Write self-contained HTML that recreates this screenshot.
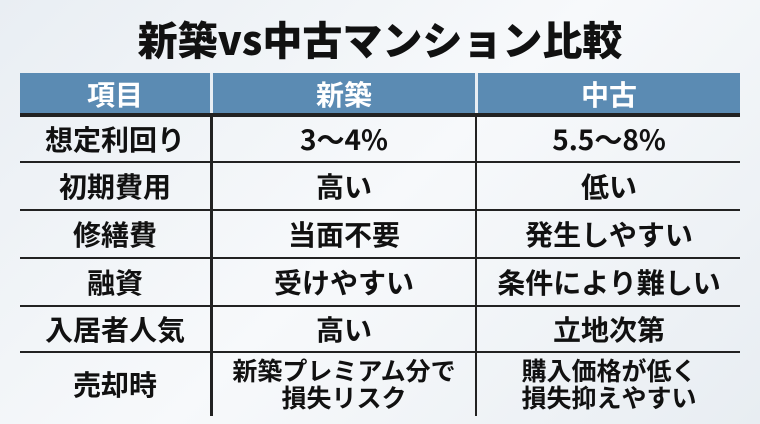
<!DOCTYPE html>
<html><head><meta charset="utf-8"><style>
html,body{margin:0;padding:0}
body{width:760px;height:424px;overflow:hidden;background:linear-gradient(135deg,#e9eef3,#f7f9fb 50%,#e8edf2);font-family:"Noto Sans CJK JP","Liberation Sans",sans-serif;font-weight:bold;color:#111;position:relative}
.t{position:absolute;left:0;width:760px;top:12px;text-align:center;font-size:40px;line-height:52px;font-weight:900}
.hdr{position:absolute;left:20px;top:73px;width:720px;height:41px;background:#5b8bb3}
.c{position:absolute;text-align:center;display:flex;align-items:center;justify-content:center;line-height:28px;white-space:nowrap}
.h{color:#fff;font-size:28px;top:73px;height:41px}
.hl{position:absolute;left:20px;width:720px;height:2px;background:#222}
.vl{position:absolute;top:114px;height:302px;width:3px;background:#222}
.r{font-size:28px}
.s{font-size:25px;line-height:27px}
</style></head><body>
<div class="t">新築vs中古マンション比較</div>
<div class="hdr"></div>
<div style="position:absolute;left:210px;top:73px;width:3px;height:41px;background:#e8eef4"></div>
<div style="position:absolute;left:475px;top:73px;width:3px;height:41px;background:#e8eef4"></div>
<div class="c h" style="left:20px;width:190px">項目</div>
<div class="c h" style="left:213px;width:262px">新築</div>
<div class="c h" style="left:478px;width:262px">中古</div>
<div class="hl" style="top:113px;height:4px"></div>
<div class="hl" style="top:161px"></div>
<div class="hl" style="top:209px"></div>
<div class="hl" style="top:257px"></div>
<div class="hl" style="top:305px"></div>
<div class="hl" style="top:351px"></div>
<div class="vl" style="left:210px"></div>
<div class="vl" style="left:475px;width:2px"></div>

<div class="c r" style="left:20px;width:190px;top:116px;height:46px">想定利回り</div>
<div class="c r" style="left:213px;width:262px;top:116px;height:46px">3〜4%</div>
<div class="c r" style="left:478px;width:262px;top:116px;height:46px">5.5〜8%</div>

<div class="c r" style="left:20px;width:190px;top:163px;height:46px">初期費用</div>
<div class="c r" style="left:213px;width:262px;top:163px;height:46px">高い</div>
<div class="c r" style="left:478px;width:262px;top:163px;height:46px">低い</div>

<div class="c r" style="left:20px;width:190px;top:211px;height:46px">修繕費</div>
<div class="c r" style="left:213px;width:262px;top:211px;height:46px">当面不要</div>
<div class="c r" style="left:478px;width:262px;top:211px;height:46px">発生しやすい</div>

<div class="c r" style="left:20px;width:190px;top:259px;height:46px">融資</div>
<div class="c r" style="left:213px;width:262px;top:259px;height:46px">受けやすい</div>
<div class="c r" style="left:478px;width:262px;top:259px;height:46px">条件により難しい</div>

<div class="c r" style="left:20px;width:190px;top:307px;height:44px">入居者人気</div>
<div class="c r" style="left:213px;width:262px;top:307px;height:44px">高い</div>
<div class="c r" style="left:478px;width:262px;top:307px;height:44px">立地次第</div>

<div class="c r" style="left:20px;width:190px;top:353px;height:62px">売却時</div>
<div class="c s" style="left:213px;width:262px;top:353px;height:62px">新築プレミアム分で<br>損失リスク</div>
<div class="c s" style="left:478px;width:262px;top:353px;height:62px">購入価格が低く<br>損失抑えやすい</div>
</body></html>
